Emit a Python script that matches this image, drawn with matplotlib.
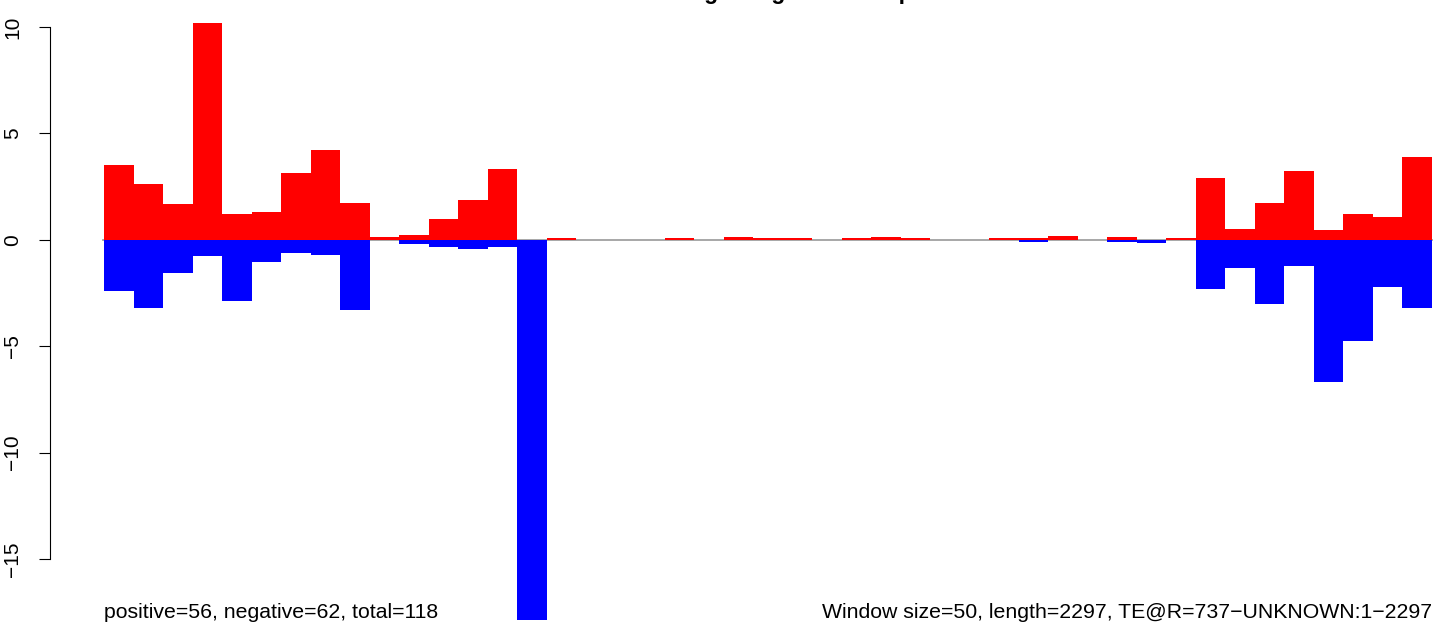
import numpy as np
import matplotlib
matplotlib.use("Agg")
import matplotlib.pyplot as plt

plt.rcParams["font.family"] = ["Liberation Sans", "DejaVu Sans"]

# signal per 50 bp window along the TE (sense up, antisense down)
positive = [3.51, 2.62, 1.68, 10.19, 1.21, 1.31, 3.14, 4.22, 1.73, 0.15,
            0.24, 0.98, 1.87, 3.33, 0.0, 0.09, 0.0, 0.0, 0.0, 0.09,
            0.0, 0.14, 0.09, 0.09, 0.0, 0.09, 0.14, 0.09, 0.0, 0.0,
            0.09, 0.08, 0.16, 0.0, 0.12, 0.0, 0.09, 2.90, 0.51, 1.73,
            3.23, 0.46, 1.21, 1.07, 3.89]
negative = [-2.39, -3.19, -1.55, -0.75, -2.86, -1.03, -0.61, -0.70, -3.28, 0.0,
            -0.18, -0.32, -0.42, -0.32, -17.87, 0.0, 0.0, 0.0, 0.0, 0.0,
            0.0, 0.0, 0.0, 0.0, 0.0, 0.0, 0.0, 0.0, 0.0, 0.0,
            0.0, -0.11, 0.0, 0.0, -0.11, -0.16, 0.0, -2.30, -1.31, -3.00,
            -1.23, -6.67, -4.74, -2.20, -3.19]
y_ticks = [-15, -10, -5, 0, 5, 10]

title = "Reads binning along TE sense profile"
left_note = "positive=56, negative=62, total=118"
right_note = "Window size=50, length=2297, TE@R=737\u2212UNKNOWN:1\u22122297"

W, H = 1441, 627
fig = plt.figure(figsize=(W / 100, H / 100), dpi=100)
ax = fig.add_axes([104 / W, 0, (1432 - 104) / W, 1])

n = len(positive)
x = np.arange(n)
ax.plot([-0.05, n], [0, 0], color="#a0a0a0", lw=1.3, zorder=1, clip_on=False)
ax.bar(x, positive, width=1, align="edge", color="red", linewidth=0, zorder=2)
ax.bar(x, negative, width=1, align="edge", color="blue", linewidth=0, zorder=2)

# pixel 0 -> 11.27, pixel 627 -> -18.20
ax.set_xlim(0, n)
ax.set_ylim(-18.20, 11.27)

for s in ["top", "right", "bottom"]:
    ax.spines[s].set_visible(False)
ax.spines["left"].set_position(("outward", 54 * 0.72))
ax.spines["left"].set_bounds(-15, 10)
ax.spines["left"].set_linewidth(0.8)
ax.set_xticks([])
ax.set_yticks(y_ticks)
ax.tick_params(axis="y", length=8, width=0.8, pad=12, labelsize=15)
plt.setp(ax.get_yticklabels(), rotation=90, va="center")

fig.text(765 / W, 1 + 1 / H, title, ha="center", va="baseline",
         fontsize=16.5, fontweight="bold")
fig.text(104 / W, 1 - 612 / H, left_note, ha="left", va="center", fontsize=15.3)
fig.text(1432 / W, 1 - 612 / H, right_note, ha="right", va="center", fontsize=15.3)

fig.savefig("out.png", dpi=100)
